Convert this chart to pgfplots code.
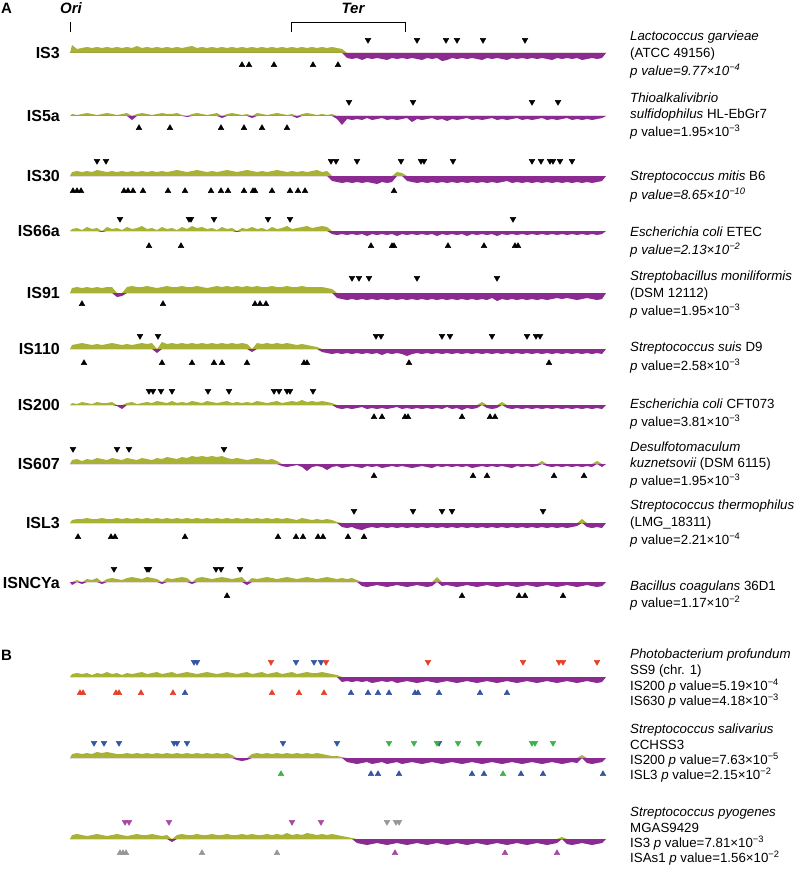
\documentclass[border=0pt]{standalone}
\usepackage{pgfplots}
\usepackage{pgfplotstable}
\pgfplotsset{compat=1.18}
\usepackage{fontspec}
\setmainfont{Liberation Sans}
\definecolor{olv}{RGB}{168,178,52}
\definecolor{prp}{RGB}{139,42,145}
\definecolor{mred}{RGB}{232,64,40}
\definecolor{mblue}{RGB}{52,84,164}
\definecolor{mgreen}{RGB}{61,178,74}
\definecolor{mmag}{RGB}{166,74,160}
\definecolor{mgray}{RGB}{150,150,150}
\pgfplotstableread{
x a b c d e f g h i j k l m
70 0 0 0 0 0 0 0 0 0 0 0 0 0
72 8 2 4 2 5 4 2 4 3 -3 3 4 4
77 4 1 5 3 6 5 1 5 4 2 4 5 5
82 5 2 4 1 5 6 3 3 4 -2 3 4 4
87 6 3 5 4 6 5 2 5 5 3 4 5 3
92 5 2 4 2 5 4 1 4 4 2 2 4 4
97 6 1 6 3 6 5 3 6 4 4 4 6 5
102 5 2 5 -1 5 4 2 5 5 -2 3 5 4
107 6 3 4 4 6 5 2 4 4 3 5 6 3
112 5 2 5 2 6 6 3 6 4 4 3 5 4
117 6 1 4 3 -4 5 -1 5 5 3 4 4 5
122 5 2 5 1 -3 4 -4 4 4 2 2 4 4
127 6 3 4 4 6 5 2 6 5 4 4 5 3
132 5 -4 5 2 7 4 3 5 4 5 3 4 4
137 7 2 4 3 6 5 1 4 5 4 4 5 5
142 5 3 5 5 6 6 2 6 4 3 5 4 4
147 6 2 4 2 7 5 3 5 5 5 3 5 4
152 5 1 5 3 6 6 2 4 4 4 4 4 5
157 6 2 4 1 5 -4 4 6 5 3 5 5 4
162 5 3 5 4 6 7 3 5 4 -2 3 4 3
167 6 2 4 2 7 5 2 7 5 4 4 5 4
172 5 2 5 3 6 6 4 6 4 3 5 4 -3
177 6 3 6 1 6 5 2 5 5 4 3 5 4
182 5 1 5 4 7 6 3 7 4 5 4 4 5
187 6 -1 4 2 6 5 2 6 5 4 5 5 4
192 7 2 5 5 6 6 4 8 4 -2 4 4 4
197 5 3 6 3 7 5 3 7 5 4 3 5 5
202 6 2 5 4 6 6 2 8 4 5 4 4 4
207 5 1 4 2 5 5 4 7 5 4 5 5 4
212 6 2 5 3 6 6 3 8 4 3 4 4 5
217 5 3 4 1 7 5 2 7 5 4 3 5 4
222 6 -2 5 4 6 6 3 8 4 5 4 4 4
227 5 2 6 2 7 5 4 6 5 4 5 5 5
232 6 3 5 3 6 6 2 5 4 3 4 3 4
237 5 2 4 -1 7 5 3 6 5 4 3 -2 4
242 6 1 5 3 6 6 2 5 4 5 4 -3 5
247 5 2 6 2 7 5 3 4 5 -3 5 -2 4
252 6 -2 5 4 6 -3 2 5 4 4 3 4 5
257 5 3 4 2 7 6 4 6 5 3 4 5 4
262 6 2 5 3 6 5 3 5 4 4 5 4 4
267 5 1 4 1 6 6 2 4 5 5 3 5 5
272 6 2 5 4 7 5 3 5 4 4 4 4 4
277 5 3 6 2 6 6 4 3 5 3 5 5 5
282 6 2 5 3 6 5 2 -2 4 4 3 4 4
287 5 1 4 5 7 6 3 -3 5 5 4 5 6
292 6 2 5 2 6 5 4 -2 4 4 5 4 4
297 5 -2 4 3 6 4 3 -1 3 3 3 5 5
302 6 2 5 4 7 5 5 -3 5 4 4 4 4
307 5 3 4 5 6 4 3 -7 4 5 5 5 6
312 6 2 5 3 6 3 4 -3 3 4 4 4 5
317 5 1 6 4 6 2 3 -2 4 3 4 5 4
322 6 2 4 5 6 -3 4 -3 3 4 5 4 5
327 5 1 5 4 5 -4 3 -6 4 5 4 3 4
332 6 2 -5 -3 4 -5 2 -3 3 4 3 2 5
337 5 -3 -6 -4 -5 -4 -3 -2 1 3 2 2 4
342 4 -9 -7 -3 -6 -5 -4 -4 -4 4 -5 1 3
347 -5 -3 -6 -4 -7 -4 -3 -3 -5 3 -4 -4 2
352 -6 -4 -7 -3 -6 -5 -4 -2 -4 4 -5 -5 1
357 -5 -3 -6 -4 -7 -4 -3 -3 -6 2 -4 -6 -4
362 -7 -4 -7 -3 -6 -5 -2 -4 -7 -4 -5 -5 -5
367 -5 -2 -6 -5 -7 -4 -4 -2 -5 -5 -4 -4 -6
372 -6 -4 -7 -3 -6 -5 -3 -3 -4 -4 -6 -6 -5
377 -5 -3 -8 -4 -7 -4 -4 -2 -5 -3 -5 -5 -4
382 -6 -2 -6 -3 -6 -6 -3 -4 -4 -4 -4 -4 -5
387 -7 -4 -7 -4 -7 -4 -4 -3 -5 -5 -5 -6 -6
392 -5 -3 -6 -3 -6 -5 -3 -2 -4 -4 -4 -5 -5
397 -6 -4 4 -5 -7 -4 -2 -3 -5 -3 -6 -4 -4
402 -5 -3 3 -3 -6 -5 -4 -2 -4 -4 -5 -6 -5
407 -6 -2 -5 -4 -7 -7 -3 -3 -5 -5 -4 -5 -6
412 -5 -6 -6 -3 -6 -5 -4 -4 -4 -4 -5 -4 -5
417 -6 -3 -7 -4 -7 -4 -3 -3 -5 -3 -6 -5 -4
422 -7 -4 -6 -3 -6 -5 -4 -2 -4 -4 -5 -6 -5
427 -5 -3 -7 -4 -7 -4 -3 -3 -5 -5 -4 -5 -6
432 -6 -2 -6 -3 -6 -5 -4 -4 -4 -4 -5 -4 -5
437 -5 -4 -7 -5 -7 -4 -3 -2 -5 5 -6 -5 -4
442 -8 -3 -6 -3 -6 -5 -4 -3 -4 -4 -5 -6 -5
447 -7 -5 -7 -4 -7 -4 -2 -2 -5 -3 -4 -5 -6
452 -5 -3 -6 -3 -6 -5 -4 -3 -4 -4 -5 -4 -5
457 -6 -4 -7 -4 -7 -4 -3 -2 -5 -5 -6 -5 -4
462 -5 -3 -6 -3 -6 -5 -5 -3 -4 -4 -5 -6 -5
467 -6 -2 -7 -5 -7 -4 -3 -2 -5 -3 -4 -5 -6
472 -5 -4 -6 -3 -6 -5 -4 -4 -4 -4 -5 -4 -5
477 -6 -3 -7 -4 -7 -4 -3 -3 -5 -5 -6 -5 -4
482 -7 -4 -6 -3 -6 -5 3 -2 -4 -4 -5 -6 -5
487 -5 -3 -7 -4 -7 -4 -3 -3 -5 -3 -4 -5 -6
492 -6 -2 -6 -3 -5 -5 -4 -2 -4 -4 -5 -4 -5
497 -5 -4 -7 -5 -8 -4 -3 -3 -5 -5 -6 -5 -4
502 -6 -3 -6 -3 -6 -5 3 -2 -4 -4 -5 -6 -5
507 -7 -4 -5 -4 -7 -4 -3 -3 -5 -3 -4 -5 -6
512 -5 -3 -7 -3 -6 -5 -4 -4 -4 -4 -5 -4 -5
517 -6 -2 -6 -4 -7 -4 -3 -2 -5 -5 -6 -5 -4
522 -5 -4 -7 -3 -6 -5 -4 -3 -4 -4 -5 -6 -5
527 -6 -3 -6 -4 -7 -4 -3 -2 -5 -3 -4 -5 -6
532 -5 -4 -7 -3 -6 -5 -4 -3 -4 -4 -5 -4 -5
537 -6 -3 -6 -4 -7 -4 -3 -2 -5 -5 -6 -5 -4
542 -5 -2 -7 -3 -6 -5 -4 3 -4 -4 -5 -6 -5
547 -6 -4 -6 -4 -7 -4 -3 -2 -5 -3 -4 -5 -6
552 -7 -3 -7 -3 -6 -5 -4 -3 -4 -4 -5 -4 -5
557 -5 -4 -6 -4 -5 -4 -3 -2 -5 -5 -6 -5 -4
562 -6 -3 -7 -3 -6 -5 -4 -3 -4 -4 -5 -6 2
567 -5 -2 -6 -4 -5 -4 -3 -2 -5 -3 -4 -5 -5
572 -6 -4 -7 -3 -6 -5 -4 -3 -4 -4 -5 -4 -6
577 -5 -3 -6 -4 -7 -4 -3 -2 -3 -5 -6 -5 -5
582 -7 -4 -7 -3 -6 -5 -4 -3 4 -4 -5 3 -4
587 -6 -3 -6 -4 -5 -4 -3 -2 -4 -3 -4 -5 -5
592 -5 -4 -7 -3 -6 -5 -4 -3 -5 -4 -5 -6 -6
597 -6 -3 -6 -4 -7 -4 -3 3 -4 -5 -6 -5 -5
602 -5 -2 -5 -3 -6 -5 -4 -3 -5 -4 -5 -4 -4
606 0 0 0 0 0 0 0 0 0 0 0 0 0
}\skew
\newcommand{\track}[2]{%
  \addplot[fill=olv, draw=none] table[x=x, y expr={#2-max(\thisrow{#1},0)}] {\skew};
  \addplot[fill=prp, draw=none] table[x=x, y expr={#2-min(\thisrow{#1},0)}] {\skew};
}
\newcommand{\rtf}{\fontsize{13.3}{15}\selectfont}
\newcommand{\rl}[2]{\node[anchor=west, inner sep=0pt, font=\rtf] at (axis cs:630,#1) {#2};}
\newcommand{\lb}[2]{\node[anchor=east, inner sep=0pt, font=\bfseries\fontsize{16}{18}\selectfont] at (axis cs:60,#1) {#2};}
\newcommand{\sx}[1]{\textsuperscript{#1}}
\pgfplotsset{
  up/.style={only marks, mark=triangle*, mark size=3.3pt},
  dn/.style={only marks, mark=triangle*, mark size=3.3pt, mark options={rotate=180}}
}
\begin{document}
\begin{tikzpicture}
\begin{axis}[width=800pt, height=872pt, scale only axis, xmin=0, xmax=800, ymin=0, ymax=872,
  y dir=reverse, hide axis, clip=false]
\path (axis cs:0,0) (axis cs:800,872);
% profiles
\track{a}{53}
\track{b}{116}
\track{c}{176}
\track{d}{231}
\track{e}{293}
\track{f}{349}
\track{g}{405}
\track{h}{464}
\track{i}{523}
\track{j}{582}
\track{k}{677}
\track{l}{758}
\track{m}{839}
% IS3
\addplot[dn, black] coordinates {(368,40) (417,40) (446,40) (457,40) (483,40) (525,40)};
\addplot[up, black] coordinates {(242,65) (249,65) (274,65) (313,65) (338,65)};
% IS5a
\addplot[dn, black] coordinates {(349,102) (413,102) (532,102) (558,102)};
\addplot[up, black] coordinates {(139,128) (170,128) (221,128) (244,128) (262,128) (287,128)};
% IS30
\addplot[dn, black] coordinates {(97,161) (106,161) (331,161) (336,161) (357,161) (401,161) (421,161) (424,161) (453,161) (532,161) (541,161) (550,161) (553,161) (560,161) (572,161)};
\addplot[up, black] coordinates {(73,191) (77,191) (81,191) (124,191) (128,191) (133,191) (143,191) (168,191) (185,191) (211,191) (221,191) (228,191) (244,191) (253,191) (255,191) (272,191) (290,191) (298,191) (305,191) (394,191)};
% IS66a
\addplot[dn, black] coordinates {(120,219) (189,219) (191,219) (214,219) (268,219) (290,219) (513,219)};
\addplot[up, black] coordinates {(149,246) (181,246) (371,246) (392,246) (394,246) (448,246) (484,246) (515,246) (518,246)};
% IS91
\addplot[dn, black] coordinates {(352,278) (359,278) (369,278) (417,278) (497,278)};
\addplot[up, black] coordinates {(82,304) (163,304) (255,304) (260,304) (266,304)};
% IS110
\addplot[dn, black] coordinates {(140,336) (158,336) (376,336) (381,336) (442,336) (450,336) (492,336) (527,336) (536,336) (540,336)};
\addplot[up, black] coordinates {(84,363) (162,363) (192,363) (214,363) (222,363) (247,363) (304,363) (307,363) (409,363) (549,363)};
% IS200
\addplot[dn, black] coordinates {(149,391) (153,391) (161,391) (172,391) (208,391) (229,391) (274,391) (279,391) (287,391) (290,391) (313,391)};
\addplot[up, black] coordinates {(374,417) (382,417) (405,417) (408,417) (462,417) (490,417) (495,417)};
% IS607
\addplot[dn, black] coordinates {(73,449) (117,449) (129,449) (224,449)};
\addplot[up, black] coordinates {(374,476) (473,476) (487,476) (554,476) (584,476)};
% ISL3
\addplot[dn, black] coordinates {(354,511) (413,511) (442,511) (452,511) (543,511)};
\addplot[up, black] coordinates {(78,537) (111,537) (115,537) (185,537) (278,537) (296,537) (303,537) (318,537) (323,537) (348,537) (364,537)};
% ISNCYa
\addplot[dn, black] coordinates {(114,569) (147,569) (149,569) (216,569) (221,569) (240,569)};
\addplot[up, black] coordinates {(227,596) (462,596) (519,596) (525,596) (563,596)};
% B1
\addplot[dn, mblue] coordinates {(194,662) (197,662) (296,662) (314,662) (321,662)};
\addplot[dn, mred] coordinates {(271,662) (326,662) (428,662) (523,662) (559,662) (563,662) (597,662)};
\addplot[up, mred] coordinates {(80,693) (83,693) (116,693) (119,693) (141,693) (173,693) (272,693) (299,693) (324,693)};
\addplot[up, mblue] coordinates {(185,693) (351,693) (368,693) (378,693) (389,693) (415,693) (418,693) (439,693) (480,693) (507,693)};
% B2
\addplot[dn, mblue] coordinates {(94,743) (104,743) (119,743) (174,743) (177,743) (187,743) (283,743) (337,743) (439,743)};
\addplot[dn, mgreen] coordinates {(389,743) (414,743) (437,743) (458,743) (479,743) (532,743) (535,743) (553,743)};
\addplot[up, mgreen] coordinates {(281,774) (503,774)};
\addplot[up, mblue] coordinates {(371,774) (378,774) (399,774) (472,774) (484,774) (521,774) (543,774) (603,774)};
% B3
\addplot[dn, mmag] coordinates {(125,822) (129,822) (169,822) (292,822) (321,822)};
\addplot[dn, mgray] coordinates {(387,822) (396,822) (399,822)};
\addplot[up, mgray] coordinates {(120,853) (123,853) (126,853) (202,853) (277,853)};
\addplot[up, mmag] coordinates {(395,853) (505,853) (557,853)};
% Ori / Ter
\draw[line width=0.8pt] (axis cs:70,22) -- (axis cs:70,32);
\draw[line width=0.8pt] (axis cs:291,32) -- (axis cs:291,22) -- (axis cs:405,22) -- (axis cs:405,32);
\node[font=\bfseries\itshape\fontsize{15}{17}\selectfont, inner sep=0pt] at (axis cs:71,8) {Ori};
\node[font=\bfseries\itshape\fontsize{15}{17}\selectfont, inner sep=0pt] at (axis cs:353,8) {Ter};
\node[anchor=west, font=\bfseries\fontsize{15}{17}\selectfont, inner sep=0pt] at (axis cs:1,8) {A};
\node[anchor=west, font=\bfseries\fontsize{15}{17}\selectfont, inner sep=0pt] at (axis cs:1,655) {B};
% left labels
\lb{53}{IS3}
\lb{116}{IS5a}
\lb{176}{IS30}
\lb{231}{IS66a}
\lb{293}{IS91}
\lb{349}{IS110}
\lb{405}{IS200}
\lb{464}{IS607}
\lb{523}{ISL3}
\lb{583}{ISNCYa}
% right text
\rl{37}{\textit{Lactococcus garvieae}}
\rl{54}{(ATCC 49156)}
\rl{71}{\textit{p value=9.77×10\sx{−4}}}
\rl{98}{\textit{Thioalkalivibrio}}
\rl{115}{\textit{sulfidophilus} HL-EbGr7}
\rl{132}{\textit{p} value=1.95×10\sx{−3}}
\rl{177}{\textit{Streptococcus mitis} B6}
\rl{195}{\textit{p value=8.65×10\sx{−10}}}
\rl{232}{\textit{Escherichia coli} ETEC}
\rl{250}{\textit{p value=2.13×10\sx{−2}}}
\rl{277}{\textit{Streptobacillus moniliformis}}
\rl{294}{(DSM 12112)}
\rl{311}{\textit{p} value=1.95×10\sx{−3}}
\rl{348}{\textit{Streptococcus suis} D9}
\rl{366}{\textit{p} value=2.58×10\sx{−3}}
\rl{404}{\textit{Escherichia coli} CFT073}
\rl{422}{\textit{p} value=3.81×10\sx{−3}}
\rl{447}{\textit{Desulfotomaculum}}
\rl{464}{\textit{kuznetsovii} (DSM 6115)}
\rl{481}{\textit{p} value=1.95×10\sx{−3}}
\rl{506}{\textit{Streptococcus thermophilus}}
\rl{523}{(LMG\_18311)}
\rl{540}{\textit{p} value=2.21×10\sx{−4}}
\rl{587}{\textit{Bacillus coagulans} 36D1}
\rl{603}{\textit{p} value=1.17×10\sx{−2}}
\rl{655}{\textit{Photobacterium profundum}}
\rl{671}{SS9 (chr. 1)}
\rl{686}{IS200 \textit{p} value=5.19×10\sx{−4}}
\rl{701}{IS630 \textit{p} value=4.18×10\sx{−3}}
\rl{730}{\textit{Streptococcus salivarius}}
\rl{745}{CCHSS3}
\rl{760}{IS200 \textit{p} value=7.63×10\sx{−5}}
\rl{775}{ISL3 \textit{p} value=2.15×10\sx{−2}}
\rl{813}{\textit{Streptococcus pyogenes}}
\rl{828}{MGAS9429}
\rl{843}{IS3 \textit{p} value=7.81×10\sx{−3}}
\rl{858}{ISAs1 \textit{p} value=1.56×10\sx{−2}}
\end{axis}
\end{tikzpicture}
\end{document}
